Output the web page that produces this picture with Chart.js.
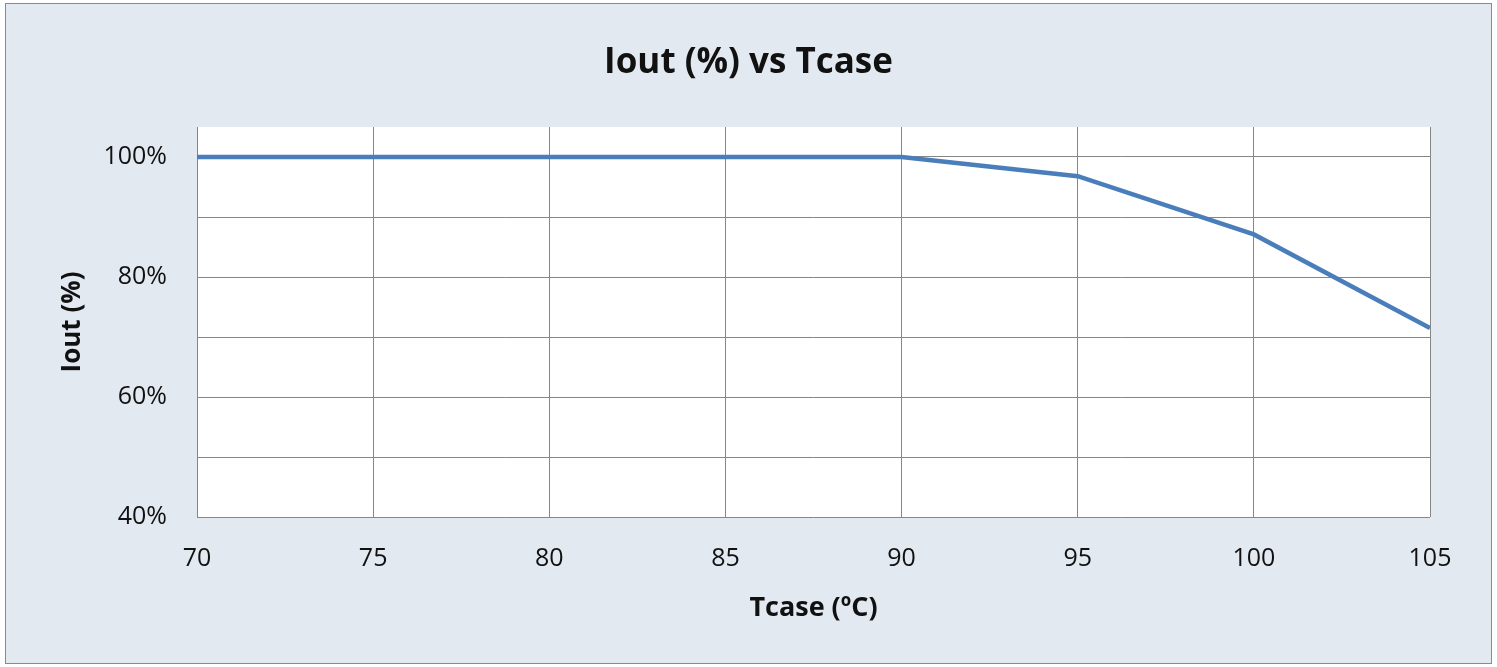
<!DOCTYPE html>
<html>
<head>
<meta charset="utf-8">
<script src="https://cdn.jsdelivr.net/npm/chart.js@4.4.1/dist/chart.umd.min.js"></script>
<style>
  html, body { margin: 0; padding: 0; background: #ffffff; }
  #frame {
    position: absolute; left: 5px; top: 3px;
    width: 1485px; height: 659px;
    border: 1px solid #8a8a8a;
    background: #e3e9f1;
  }
  #chart { display: block; }
</style>
</head>
<body>
<div id="frame"><canvas id="chart" width="1485" height="659"></canvas></div>
<script>
// Data
const tcase = [70, 75, 80, 85, 90, 95, 100, 105];
const ioutPct = [100, 100, 100, 100, 100, 96.8, 87.1, 71.5];
const chartTitle = "Iout (%) vs Tcase";

const FONT = "'Open Sans', 'DejaVu Sans', sans-serif";

// white plot area
const plotBackground = {
  id: "plotBackground",
  beforeDraw(chart) {
    const { ctx, chartArea: a } = chart;
    ctx.save();
    ctx.fillStyle = "#ffffff";
    ctx.fillRect(a.left, a.top, a.right - a.left, a.bottom - a.top);
    ctx.restore();
  },
};

// title centred on the whole frame (built-in one centres on the padded box)
const frameTitle = {
  id: "frameTitle",
  afterDraw(chart) {
    const ctx = chart.ctx;
    ctx.save();
    ctx.font = "bold 35px " + FONT;
    ctx.fillStyle = "#111111";
    ctx.textAlign = "center";
    ctx.textBaseline = "middle";
    ctx.fillText(chartTitle, chart.width / 2, 59.5);
    ctx.restore();
  },
};

const chart = new Chart(document.getElementById("chart").getContext("2d"), {
  type: "line",
  data: {
    datasets: [
      {
        data: tcase.map((t, i) => ({ x: t, y: ioutPct[i] })),
        borderColor: "#4a7ebb",
        borderWidth: 4.5,
        pointRadius: 0,
        tension: 0,
        fill: false,
      },
    ],
  },
  options: {
    responsive: false,
    animation: false,
    layout: { padding: { left: 0, right: 61, top: 123, bottom: 0 } },
    plugins: {
      legend: { display: false },
      tooltip: { enabled: false },
      title: { display: false },
    },
    scales: {
      x: {
        type: "linear",
        min: 70,
        max: 105,
        border: { display: false },
        grid: { color: "#868686", lineWidth: 1, drawTicks: false },
        ticks: {
          stepSize: 5,
          padding: 27,
          color: "#111111",
          font: { family: FONT, size: 25 },
        },
        title: {
          display: true,
          text: "Tcase (ºC)",
          color: "#111111",
          font: { family: FONT, size: 27, weight: "bold", lineHeight: 1.2 },
          padding: { top: 0, bottom: 38 },
        },
        afterFit(scale) { scale.height = 146; },
      },
      y: {
        min: 40,
        max: 105,
        border: { display: false },
        grid: { color: "#868686", lineWidth: 1, drawTicks: false },
        afterBuildTicks(scale) {
          scale.ticks = scale.ticks.filter((t) => t.value % 10 === 0);
        },
        ticks: {
          stepSize: 10,
          padding: 30,
          color: "#111111",
          font: { family: FONT, size: 25 },
          callback: (v) => (v % 20 === 0 ? v + "%" : ""),
        },
        title: {
          display: true,
          text: "Iout (%)",
          color: "#111111",
          font: { family: FONT, size: 26, weight: "bold", lineHeight: 1.2 },
          padding: { top: 51, bottom: 0 },
        },
        afterFit(scale) { scale.width = 191; },
      },
    },
  },
  plugins: [plotBackground, frameTitle],
});
</script>
</body>
</html>
